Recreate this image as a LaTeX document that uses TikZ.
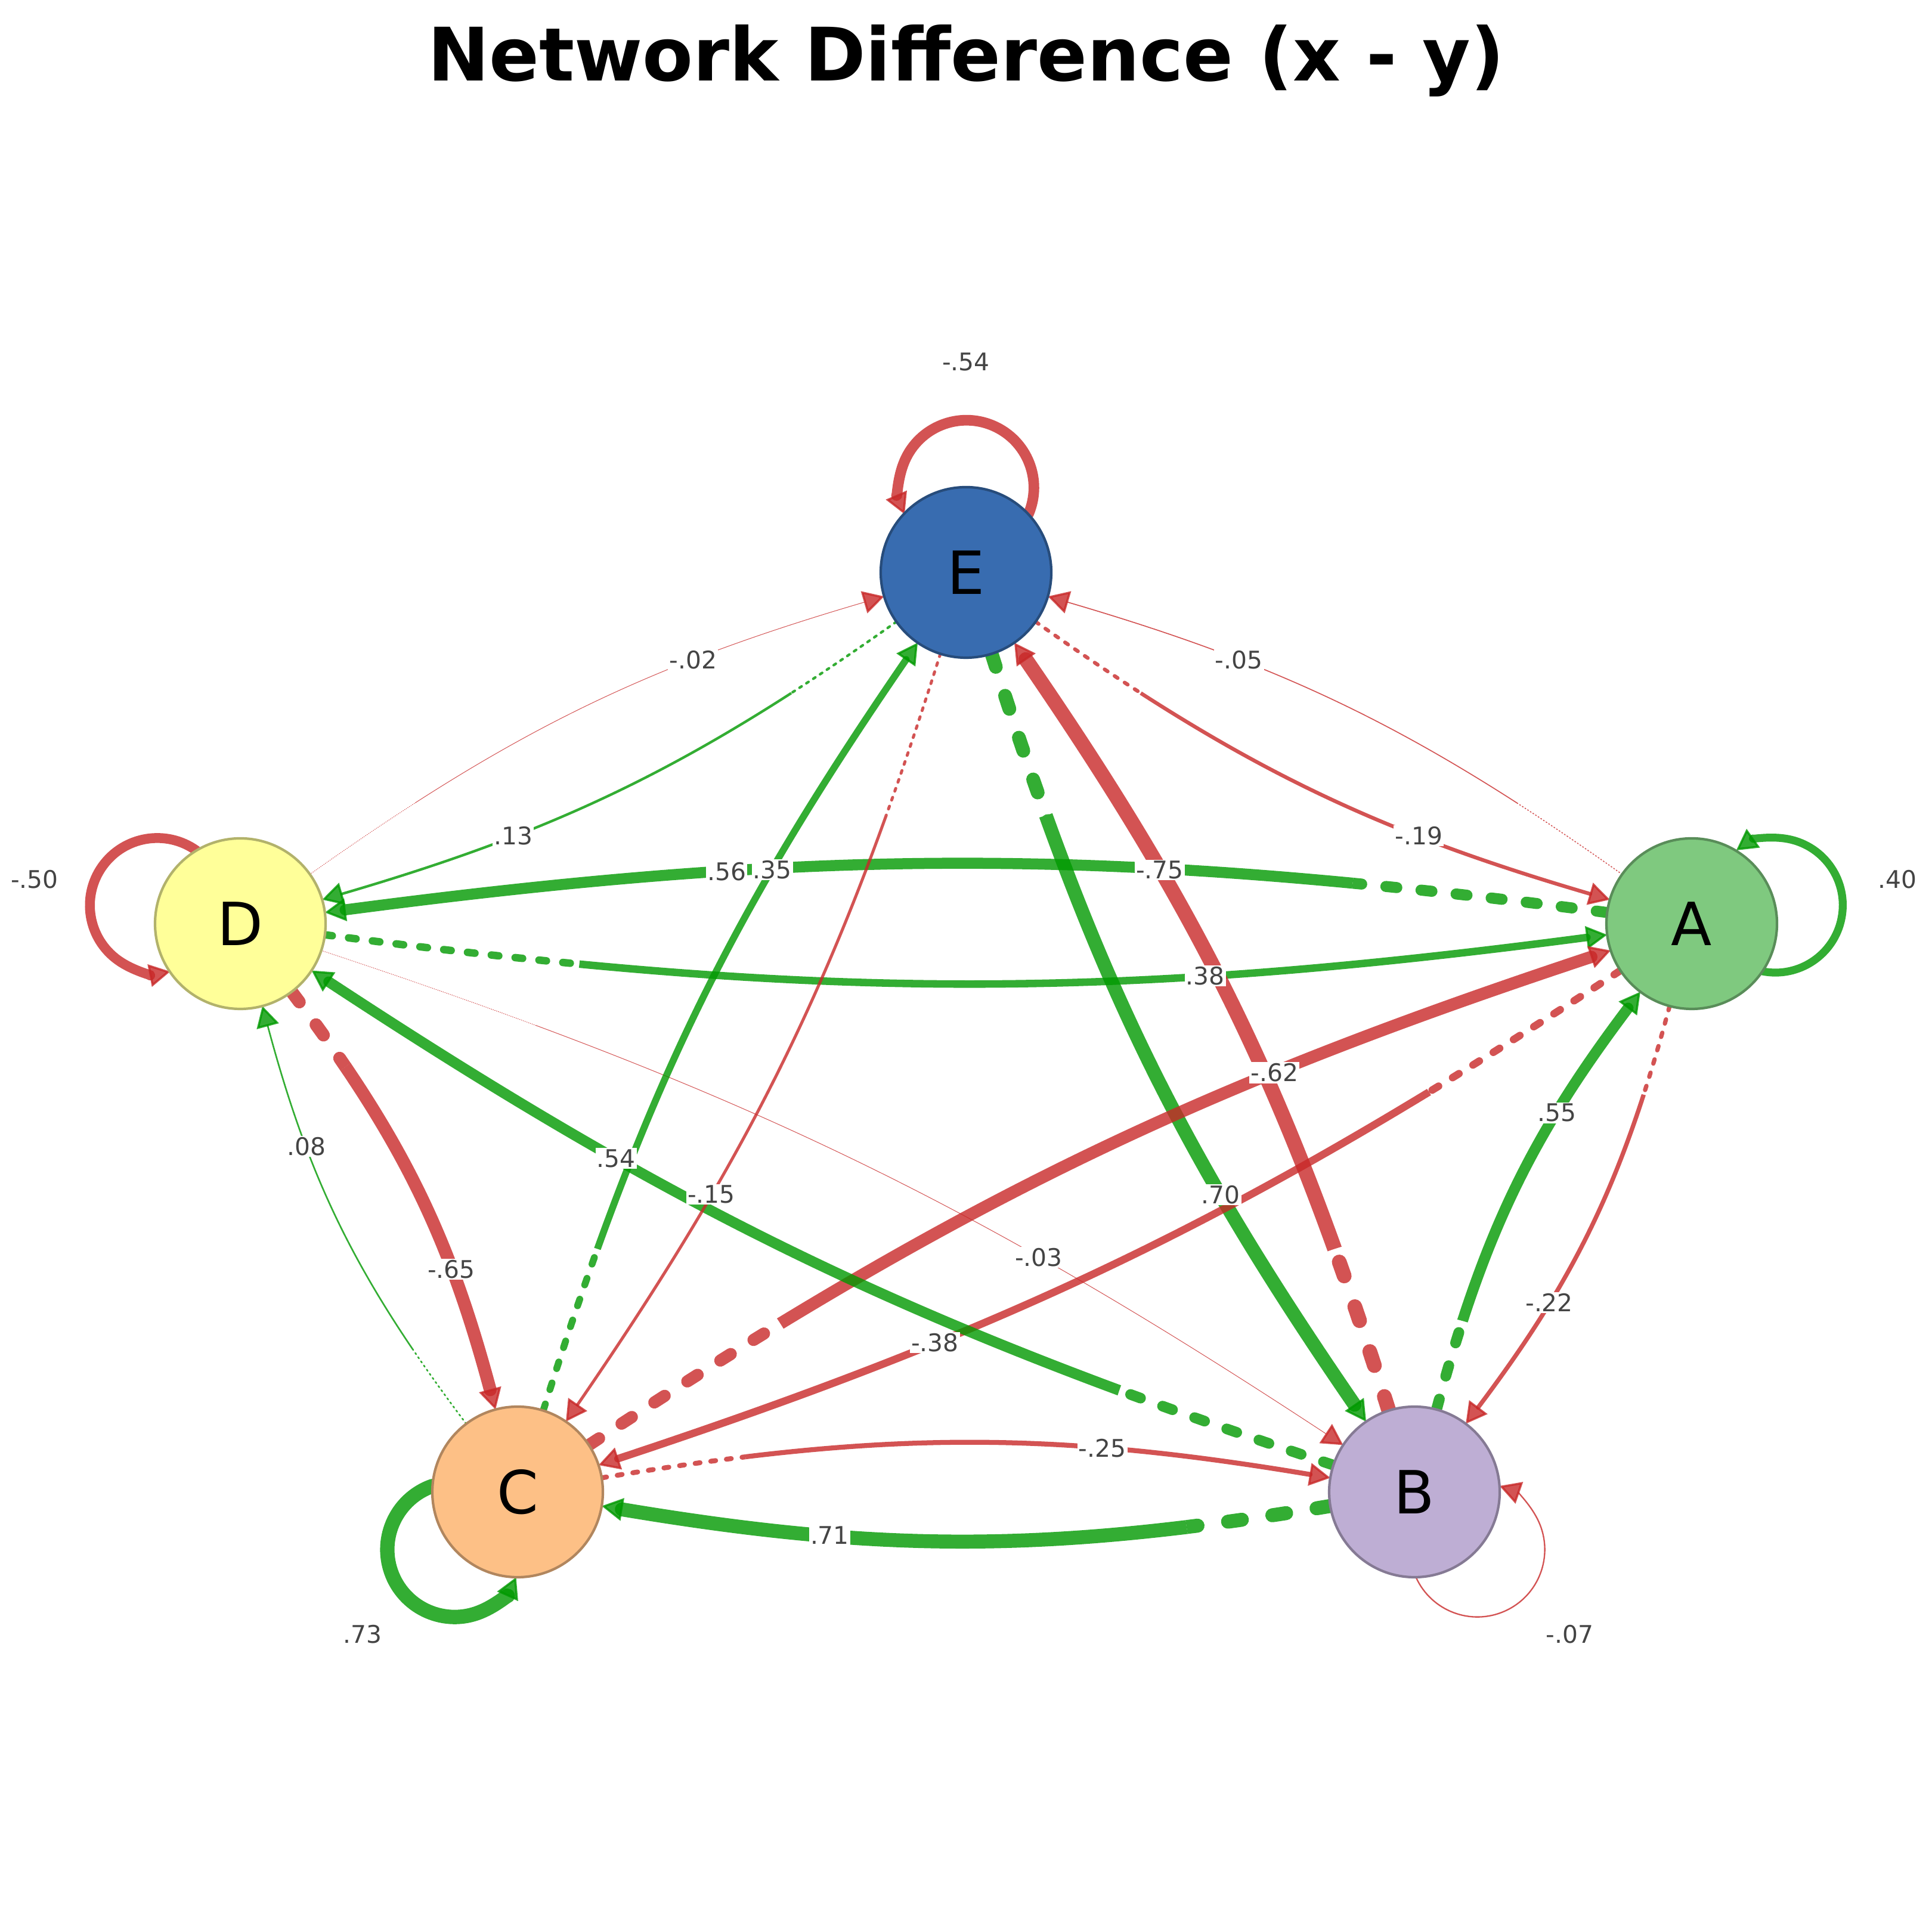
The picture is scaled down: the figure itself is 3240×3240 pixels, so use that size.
\documentclass[tikz,border=0pt]{standalone}
\usepackage{fontspec}
\setmainfont{DejaVu Sans}
\usetikzlibrary{arrows.meta,calc}
\definecolor{poscol}{RGB}{0,153,0}
\definecolor{negcol}{RGB}{200,40,40}
\definecolor{labcol}{RGB}{68,68,68}
\definecolor{colA}{HTML}{7FC97F}
\definecolor{colB}{HTML}{BEAED4}
\definecolor{colC}{HTML}{FDC086}
\definecolor{colD}{HTML}{FFFF99}
\definecolor{colE}{HTML}{386CB0}
\pgfdeclarelayer{back}
\pgfdeclarelayer{edges}
\pgfsetlayers{back,edges,main}
\tikzset{
  vert/.style={circle, minimum size=14.3mm, inner sep=0pt, outer sep=0pt, line width=0.6pt, font=\fontsize{14.2}{14.2}\selectfont},
  edgeline/.style={draw=#1, draw opacity=0.8, fill opacity=0.8, line cap=round},
  headtip/.style={-{Triangle[length=5pt,width=5.4pt,line width=0.5pt]}},
  elabel/.style={fill=white, inner sep=0.3pt, text=labcol, font=\fontsize{5.8}{6}\selectfont},
  looplabel/.style={text=labcol, font=\fontsize{5.8}{6}\selectfont}
}
\newcommand\netedge[5]{%
  \pgfmathsetmacro\edgew{max(0.14,4.7*abs(#4))}%
  \pgfmathsetmacro\dashon{1.0*\edgew}%
  \pgfmathsetmacro\dashoff{2.2*\edgew}%
  \ifdim #4pt<0pt \def\edgecol{negcol}\else\def\edgecol{poscol}\fi
  \begin{pgfonlayer}{edges}
    \begin{scope}
      \clip let \p1=($(#2)-(#1)$), \n1={0.2*veclen(\x1,\y1)+12.2pt} in (#1) circle[radius=\n1];
      \draw[edgeline=\edgecol, line width=\edgew pt, dash pattern=on \dashon pt off \dashoff pt] (#1) to[bend left=#3] (#2);
    \end{scope}
    \begin{scope}[even odd rule]
      \clip let \p1=($(#2)-(#1)$), \n1={0.2*veclen(\x1,\y1)+12.2pt} in (-100,-100) rectangle (3340,3340) (#1) circle[radius=\n1];
      \draw[edgeline=\edgecol, headtip, line width=\edgew pt] (#1) to[bend left=#3] (#2);
    \end{scope}
  \end{pgfonlayer}
  \path (#1) to[bend left=#3] node[elabel, pos=0.7] {#5} (#2);
}
\newcommand\selfloop[4]{%
  \pgfmathsetmacro\edgew{max(0.14,4.7*abs(#3))}%
  \pgfmathsetmacro\loopst{#2-46.5}%
  \pgfmathsetmacro\loopa{#2-113.3}%
  \pgfmathsetmacro\loopb{#2+113.3}%
  \ifdim #3pt<0pt \def\edgecol{negcol}\else\def\edgecol{poscol}\fi
  \begin{pgfonlayer}{edges}
    \draw[edgeline=\edgecol, headtip, line width=\edgew pt] (#1.\loopst) arc[start angle=\loopa, end angle=\loopb, radius=113];
  \end{pgfonlayer}
  \node[looplabel] at ($(#1)+(#2:353)$) {#4};
}
\begin{document}
\begin{tikzpicture}[x=0.05mm, y=0.05mm]
\begin{pgfonlayer}{back}
\fill[white] (0,0) rectangle (3240,3240);
\end{pgfonlayer}
\useasboundingbox (0,0) rectangle (3240,3240);
\node[font=\bfseries\fontsize{17.6}{17.6}\selectfont, anchor=base] (title) at (1620,3104) {Network Difference (x - y)};
\foreach \nm/\px/\py in {E/1620/2280, A/2837/1691, D/403/1691, C/868/738, B/2372/738}
  \node[vert, fill=col\nm, draw=col\nm!70!black] (\nm) at (\px,\py) {\nm};
\foreach \nm/\dir/\wt/\lab in {E/90/-0.54/-.54, A/12.2/0.40/.40, D/167.8/-0.50/-.50, C/222.5/0.73/.73, B/-42.5/-0.07/-.07}
  \selfloop{\nm}{\dir}{\wt}{\lab};
\foreach \src/\dst/\ang/\wt/\lab in {D/A/-7.5/0.38/.38, A/D/-7.5/0.56/.56, C/B/9.5/-0.25/-.25, B/C/9.5/0.71/.71,
    D/E/9.5/-0.02/-.02, E/D/9.5/0.13/.13, E/A/-9.5/-0.19/-.19, A/E/-9.5/-0.05/-.05,
    A/B/11/-0.22/-.22, B/A/11/0.55/.55, D/C/11/-0.65/-.65, C/D/11/0.08/.08,
    E/B/-8.5/0.70/.70, B/E/-8.5/-0.75/-.75, C/A/7.5/-0.62/-.62, A/C/7.5/-0.38/-.38,
    D/B/7.5/-0.03/-.03, B/D/7.5/0.54/.54, C/E/8.5/0.35/.35, E/C/8.5/-0.15/-.15}
  \netedge{\src}{\dst}{\ang}{\wt}{\lab};
\end{tikzpicture}
\end{document}
